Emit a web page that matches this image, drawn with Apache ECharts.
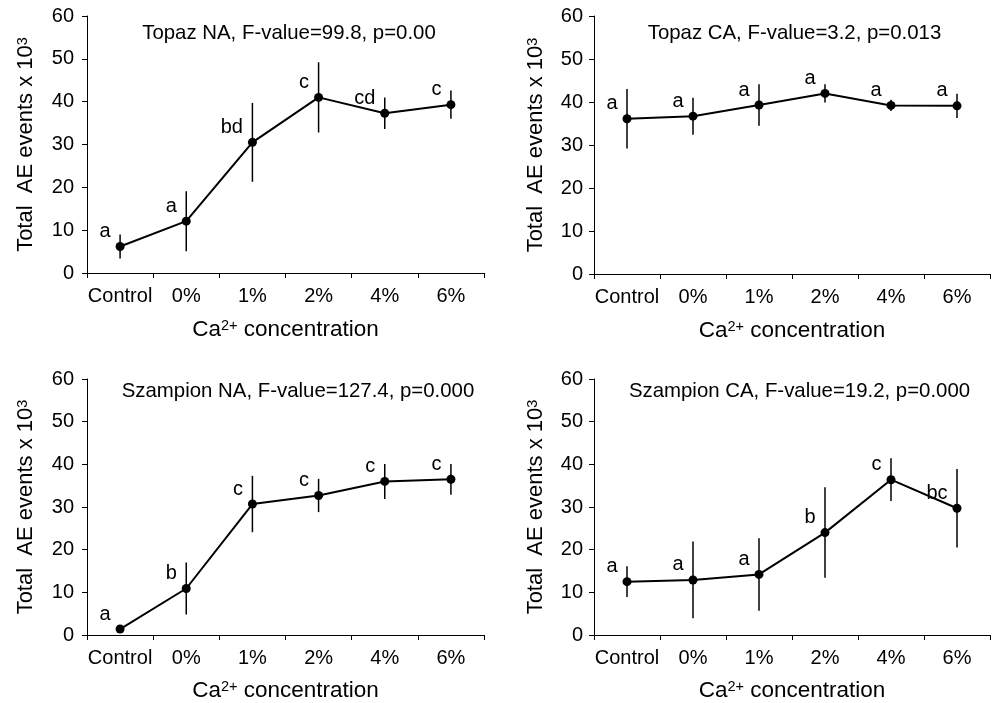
<!DOCTYPE html>
<html><head><meta charset="utf-8">
<script src="https://cdn.jsdelivr.net/npm/echarts@6/dist/echarts.min.js"></script>
<style>html,body{margin:0;padding:0;background:#fff}#c{width:992px;height:703px}</style>
</head><body><div id="c"></div>
<script>
// ---- data ----
const categories = ['Control', '0%', '1%', '2%', '4%', '6%'];

const panelTitles = [
  'Topaz NA, F-value=99.8, p=0.00',
  'Topaz CA, F-value=3.2, p=0.013',
  'Szampion NA, F-value=127.4, p=0.000',
  'Szampion CA, F-value=19.2, p=0.000'
];

const topazNA_mean = [6.2, 12.1, 30.5, 41.0, 37.3, 39.3];
const topazNA_err  = [2.8, 7.0, 9.2, 8.2, 3.7, 3.3];
const topazNA_sig  = ['a', 'a', 'bd', 'c', 'cd', 'c'];

const topazCA_mean = [36.1, 36.7, 39.3, 42.0, 39.2, 39.1];
const topazCA_err  = [6.9, 4.3, 4.8, 2.1, 1.3, 2.8];
const topazCA_sig  = ['a', 'a', 'a', 'a', 'a', 'a'];

const szampionNA_mean = [1.4, 10.9, 30.7, 32.7, 36.0, 36.5];
const szampionNA_err  = [0.5, 6.1, 6.6, 3.9, 4.1, 3.6];
const szampionNA_sig  = ['a', 'b', 'c', 'c', 'c', 'c'];

const szampionCA_mean = [12.5, 12.9, 14.2, 24.0, 36.4, 29.7];
const szampionCA_err  = [3.6, 9.0, 8.5, 10.6, 5.0, 9.2];
const szampionCA_sig  = ['a', 'a', 'a', 'b', 'c', 'bc'];

const yMin = 0, yMax = 60, yStep = 10;
const xAxisName = 'Ca{sup|2+} concentration';
const yAxisName = 'Total  AE events x 10{sup|3}';

// ---- build ----
const FONT = '"Liberation Sans", Arial, Helvetica, sans-serif';
const panels = [
  {mean: topazNA_mean, err: topazNA_err, sig: topazNA_sig},
  {mean: topazCA_mean, err: topazCA_err, sig: topazCA_sig},
  {mean: szampionNA_mean, err: szampionNA_err, sig: szampionNA_sig},
  {mean: szampionCA_mean, err: szampionCA_err, sig: szampionCA_sig}
];
const layout = [
  {left: 87, top: 16, width: 397, height: 257, yGap: 50, yMargin: 13, xGap: 45, tx: 289, ty: 33},
  {left: 594, top: 16, width: 396, height: 258, yGap: 47, yMargin: 11, xGap: 45, tx: 794.5, ty: 33},
  {left: 87, top: 379, width: 397, height: 258, yGap: 50, yMargin: 13, xGap: 44, tx: 298, ty: 391.5},
  {left: 594, top: 379, width: 396, height: 258, yGap: 47, yMargin: 11, xGap: 44, tx: 799.5, ty: 391.5}
];

const axisLineStyle = {color: '#000', width: 1};
const supRich = {sup: {fontSize: 14.5, fontFamily: FONT, color: '#000', verticalAlign: 'top'}};

const grid = [], xAxis = [], yAxis = [], series = [], graphic = [];
panels.forEach((p, i) => {
  const L = layout[i];
  grid.push({left: L.left, top: L.top, width: L.width, height: L.height, containLabel: false});
  xAxis.push({
    type: 'category', gridIndex: i, data: categories, boundaryGap: true,
    axisLine: {lineStyle: axisLineStyle},
    axisTick: {show: true, length: 5, lineStyle: axisLineStyle},
    axisLabel: {color: '#000', fontSize: 20, fontFamily: FONT, margin: 13, interval: 0},
    splitLine: {show: false},
    name: xAxisName, nameLocation: 'middle', nameGap: L.xGap,
    nameTextStyle: {color: '#000', fontSize: 22.5, fontFamily: FONT, rich: supRich}
  });
  yAxis.push({
    type: 'value', gridIndex: i, min: yMin, max: yMax, interval: yStep,
    axisLine: {show: true, lineStyle: axisLineStyle},
    axisTick: {show: true, length: 5, lineStyle: axisLineStyle},
    axisLabel: {color: '#000', fontSize: 20, fontFamily: FONT, margin: L.yMargin},
    splitLine: {show: false},
    name: yAxisName, nameLocation: 'middle', nameGap: L.yGap, nameRotate: 90,
    nameTextStyle: {color: '#000', fontSize: 22, fontFamily: FONT, rich: supRich}
  });
  const errData = categories.map((c, j) => [j, p.mean[j] - p.err[j], p.mean[j] + p.err[j]]);
  series.push({
    type: 'custom', xAxisIndex: i, yAxisIndex: i, data: errData, z: 2,
    encode: {x: 0, y: [1, 2]},
    renderItem: function (params, api) {
      const x = api.value(0);
      const lo = api.coord([x, api.value(1)]);
      const hi = api.coord([x, api.value(2)]);
      return {type: 'line', shape: {x1: lo[0], y1: lo[1], x2: hi[0], y2: hi[1]},
              style: {stroke: '#000', lineWidth: 1.5}};
    }
  });
  series.push({
    type: 'line', xAxisIndex: i, yAxisIndex: i, data: p.mean, z: 3,
    symbol: 'circle', symbolSize: 9, showSymbol: true,
    lineStyle: {color: '#000', width: 2},
    itemStyle: {color: '#000'},
    label: {
      show: true, position: 'left', distance: 5, offset: [0, -15],
      color: '#000', fontSize: 20, fontFamily: FONT,
      formatter: (q) => p.sig[q.dataIndex]
    }
  });
  graphic.push({
    type: 'text', x: L.tx, y: L.ty,
    style: {text: panelTitles[i], fill: '#000', fontSize: 20.4, fontFamily: FONT,
            align: 'center', verticalAlign: 'middle', textAlign: 'center', textVerticalAlign: 'middle'}
  });
});

const chart = echarts.init(document.getElementById('c'), null, {renderer: 'canvas'});
chart.setOption({
  animation: false,
  backgroundColor: '#fff',
  textStyle: {fontFamily: FONT},
  grid, xAxis, yAxis, series, graphic
});
</script>
</body></html>
